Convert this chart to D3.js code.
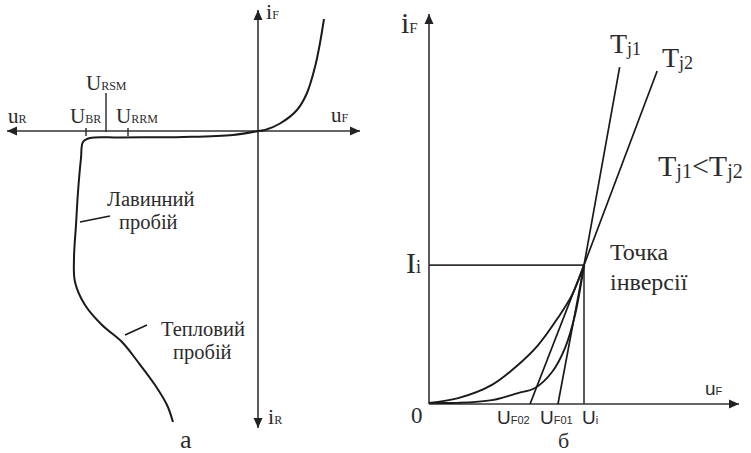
<!DOCTYPE html>
<html>
<head>
<meta charset="utf-8">
<script src="https://cdn.jsdelivr.net/npm/d3@7"></script>
<style>
body { margin: 0; background: #fff; }
svg { display: block; }
</style>
</head>
<body>
<svg width="751" height="453"></svg>
<script>
// ---- panel "а": diode I-V characteristic (u, i in arbitrary units) ----
var forwardCurve = [[0,0],[0.28,0.04],[0.88,0.3],[1.56,0.84],[1.96,1.52],[2.28,2.56],[2.48,3.52],[2.64,4.48]];
var reverseCurve = [[0,0],[-1,-0.16],[-3,-0.24],[-5.52,-0.26],[-6.72,-0.28],[-7,-0.44],[-7.08,-1.08],
    [-7.2,-2.44],[-7.28,-3.76],[-7.36,-5.08],[-7.32,-6.04],[-6.92,-6.96],[-6.24,-7.76],[-5.44,-8.44],
    [-4.8,-9.24],[-4.12,-10.16],[-3.64,-10.96],[-3.4,-11.64]];
var reverseTicks = [
    {sub: "BR", u: -6.88, up: 3, down: 5},
    {sub: "RSM", u: -6.08, up: 38, down: 1},
    {sub: "RRM", u: -5.2, up: 3, down: 5}
];
var leaders = [
    {from: [-7.12,-3.64], to: [-5.92,-3.4], text: ["Лавинний", "пробій"]},
    {from: [-5.32,-8.16], to: [-4.44,-7.76], text: ["Тепловий", "пробій"]}
];

// ---- panel "б": temperature dependence, inversion point ----
var curveTj2 = [[0,0.03],[0.94,0.15],[2.03,0.49],[2.87,1.0],[3.52,1.51],[4.16,2.21],[4.61,2.79],[5,3.56]];
var curveTj1 = [[0,0.03],[0.94,0.03],[2.03,0.1],[2.87,0.28],[3.42,0.41],[3.97,0.82],[4.39,1.44],[4.71,2.28],[5,3.56]];
var lineTj1 = [[4.16,0],[5,3.56],[6.15,8.64]];
var lineTj2 = [[3.26,0],[5,3.56],[7.36,8.54]];
var inversion = [5, 3.56];
var uLabels = [{sub: "F02", u: 3.26}, {sub: "F01", u: 4.16}, {sub: "i", u: 5}];

// the renderer takes one family name only, no fallback list
var SERIF = "Liberation Serif";
var SANS = "Liberation Sans";

var svg = d3.select("svg");

var defs = svg.append("defs");
defs.append("marker")
    .attr("id", "arrow")
    .attr("viewBox", "0 -5 10 10")
    .attr("refX", 10).attr("refY", 0)
    .attr("markerUnits", "userSpaceOnUse")
    .attr("markerWidth", 11).attr("markerHeight", 10)
    .attr("orient", "auto-start-reverse")
    .append("path").attr("d", "M0,-4.5L10,0L0,4.5Z").attr("fill", "#222");
defs.append("clipPath").attr("id", "ucut")
    .append("rect").attr("x", 470).attr("y", 395).attr("width", 160).attr("height", 29.5);

function axisLine(g, x1, y1, x2, y2, both) {
    var l = g.append("line")
        .attr("x1", x1).attr("y1", y1).attr("x2", x2).attr("y2", y2)
        .attr("stroke", "#333").attr("stroke-width", 1.6)
        .attr("marker-end", "url(#arrow)");
    if (both) l.attr("marker-start", "url(#arrow)");
    return l;
}

function text(g, x, y, size, str, font) {
    return g.append("text").attr("x", x).attr("y", y)
        .attr("font-family", font || SERIF).attr("font-size", size)
        .attr("fill", "#2b2b2b").text(str);
}

// symbol with subscript letters sitting on the baseline
function label(g, x, y, main, sub, size, subSize, font, dy) {
    var t = g.append("text").attr("x", x).attr("y", y)
        .attr("font-family", font || SERIF).attr("fill", "#2b2b2b");
    t.append("tspan").attr("font-size", size).text(main);
    if (sub) t.append("tspan").attr("font-size", subSize).attr("dy", dy || 0).text(sub);
    return t;
}

// ================= panel a =================
var xL = d3.scaleLinear().domain([-10.04, 4.08]).range([7, 360]);
var yL = d3.scaleLinear().domain([-11.88, 4.84]).range([428, 10]);
var gL = svg.append("g");

axisLine(gL, xL(-10.04), yL(0), xL(4.08), yL(0), true);
axisLine(gL, xL(0), yL(0), xL(0), yL(4.84));
axisLine(gL, xL(0), yL(0), xL(0), yL(-11.88));

gL.selectAll(".rtick").data(reverseTicks).enter().append("line")
    .attr("x1", d => xL(d.u)).attr("x2", d => xL(d.u))
    .attr("y1", d => yL(0) - d.up).attr("y2", d => yL(0) + d.down)
    .attr("stroke", "#333").attr("stroke-width", 1.5);

var line = d3.line().x(d => xL(d[0])).y(d => yL(d[1])).curve(d3.curveCatmullRom.alpha(0.5));
gL.append("path").attr("d", line(forwardCurve))
    .attr("fill", "none").attr("stroke", "#1a1a1a").attr("stroke-width", 2);
gL.append("path").attr("d", line(reverseCurve))
    .attr("fill", "none").attr("stroke", "#1a1a1a").attr("stroke-width", 2);

gL.selectAll(".leader").data(leaders).enter().append("line")
    .attr("x1", d => xL(d.from[0])).attr("y1", d => yL(d.from[1]))
    .attr("x2", d => xL(d.to[0])).attr("y2", d => yL(d.to[1]))
    .attr("stroke", "#1a1a1a").attr("stroke-width", 1.6);

label(gL, 266, 19, "i", "F", 22, 12);
label(gL, 8, 123, "u", "R", 21, 12);
label(gL, 331, 122, "u", "F", 21, 12);
label(gL, 268, 424, "i", "R", 22, 12);
reverseTicks.forEach(function(d, k) {
    var lx = [70, 86, 116][k], ly = k == 1 ? 90 : 123;
    label(gL, lx, ly, "U", d.sub, 21, 12);
});

text(gL, 107, 206, 20.5, leaders[0].text[0]);
text(gL, 119, 229, 20.5, leaders[0].text[1]);
text(gL, 161, 336, 20.5, leaders[1].text[0]);
text(gL, 173, 359, 20.5, leaders[1].text[1]);
text(gL, 180, 448, 26, "а");

// ================= panel б =================
var xR = d3.scaleLinear().domain([0, 10]).range([429, 739]);
var yR = d3.scaleLinear().domain([0, 10]).range([404, 14]);
var gR = svg.append("g");

axisLine(gR, xR(0), yR(0), xR(0), yR(10));
axisLine(gR, xR(0), yR(0), xR(10), yR(0));

// guide lines to inversion point
gR.append("path")
    .attr("d", "M" + xR(0) + "," + yR(inversion[1]) + "H" + xR(inversion[0]) + "V" + yR(0))
    .attr("fill", "none").attr("stroke", "#333").attr("stroke-width", 1.6);

var lineR = d3.line().x(d => xR(d[0])).y(d => yR(d[1]));
[lineTj1, lineTj2].forEach(function(pts) {
    gR.append("path").attr("d", lineR(pts))
        .attr("fill", "none").attr("stroke", "#1a1a1a").attr("stroke-width", 1.7);
});
lineR.curve(d3.curveCatmullRom.alpha(0.5));
[curveTj1, curveTj2].forEach(function(pts) {
    gR.append("path").attr("d", lineR(pts))
        .attr("fill", "none").attr("stroke", "#1a1a1a").attr("stroke-width", 1.9);
});

label(gR, 401, 33, "i", "F", 30, 15);
label(gR, 406, 273, "I", "i", 30, 18);
text(gR, 411, 423, 23, "0");
label(gR, 705, 395, "u", "F", 19, 11, SANS);

label(gR, 610, 53, "T", "j1", 28, 18, null, 2);
label(gR, 662, 67, "T", "j2", 28, 18, null, 2);

var cmp = gR.append("text").attr("x", 658).attr("y", 176)
    .attr("font-family", SERIF).attr("fill", "#2b2b2b");
cmp.append("tspan").attr("font-size", 30).text("T");
cmp.append("tspan").attr("font-size", 20).attr("dy", 2).text("j1");
cmp.append("tspan").attr("font-size", 30).attr("dy", -2).text("<");
cmp.append("tspan").attr("font-size", 30).text("T");
cmp.append("tspan").attr("font-size", 20).attr("dy", 2).text("j2");

text(gR, 610, 260, 24, "Точка");
text(gR, 610, 290, 24, "інверсії");

// U labels under the u axis, bottoms cut off as in the source
var uShift = {"F02": -33, "F01": -18, "i": -2};
var gU = gR.append("g").attr("clip-path", "url(#ucut)");
uLabels.forEach(function(d) {
    label(gU, xR(d.u) + uShift[d.sub], 424, "U", d.sub, 19, 11, SANS);
});

text(gR, 558, 448, 22, "б");
</script>
</body>
</html>
